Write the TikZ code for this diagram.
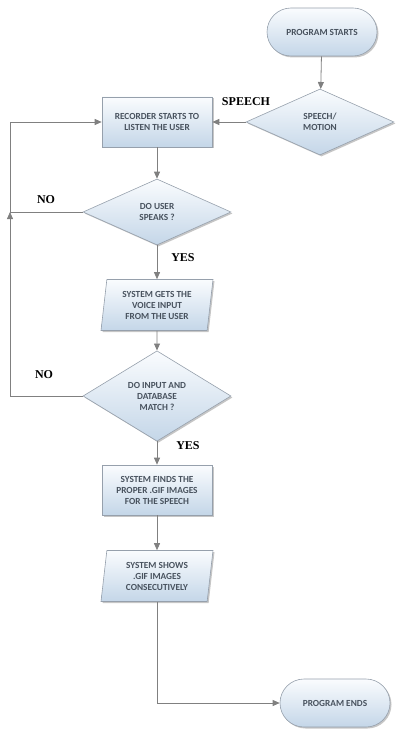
\documentclass[tikz,border=0pt]{standalone}
\usepackage{fontspec}
\setmainfont{Carlito}
\newfontfamily\lblfont{Liberation Serif}
\usetikzlibrary{positioning,arrows.meta,shapes.geometric,shapes.misc,shadows}
\definecolor{boxtop}{RGB}{250,252,254}
\definecolor{boxbot}{RGB}{196,214,232}
\definecolor{boxline}{RGB}{150,160,172}
\definecolor{boxtext}{RGB}{72,82,94}
\definecolor{arrgray}{RGB}{128,128,128}
\tikzset{
  every picture/.style={line width=0.6pt},
  base/.style={draw=boxline,top color=boxtop,bottom color=boxbot,text=boxtext,align=center,
    font=\fontsize{9.3}{11}\selectfont\bfseries,inner sep=1pt,
    drop shadow={shadow xshift=1.5pt,shadow yshift=-1.5pt,fill=gray,opacity=0.45}},
  blk/.style={base,rectangle,minimum height=50pt,minimum width=110pt},
  term/.style={base,rounded rectangle,minimum height=48pt,minimum width=112pt},
  dec/.style={base,diamond,minimum height=66pt,minimum width=148pt},
  io/.style={base,trapezium,trapezium left angle=79,trapezium right angle=101,
    trapezium stretches body,minimum height=51pt,minimum width=112pt},
  lbl/.style={font=\lblfont\fontsize{12}{14}\selectfont\bfseries,inner sep=0pt},
  flow/.style={-{Triangle[length=7pt,width=6pt]},draw=arrgray,line width=0.8pt},
}

\begin{document}
\begin{tikzpicture}[x=1pt,y=-1pt]
\useasboundingbox (0,0) rectangle (408,738);
% --- start / mode choice ---
\node[term] (start) at (322,32) {PROGRAM STARTS};
\node[dec] (mode) at (320,122) {SPEECH/\\MOTION};
\node[blk] (rec) at (157,122) {RECORDER STARTS TO\\LISTEN THE USER};
% --- speech loop ---
\node[dec] (speaks) at (157,212) {DO USER\\SPEAKS ?};
\node[io] (voice) at (157,305) {SYSTEM GETS THE\\VOICE INPUT\\FROM THE USER};
\node[dec] (match) at (157,396) {DO INPUT AND\\DATABASE\\MATCH ?};
% --- output ---
\node[blk] (find) at (157,490) {SYSTEM FINDS THE\\PROPER .GIF IMAGES\\FOR THE SPEECH};
\node[io] (shows) at (157,576) {SYSTEM SHOWS\\.GIF IMAGES\\CONSECUTIVELY};
\node[term] (ends) at (335,703) {PROGRAM ENDS};
\coordinate (j1) at (10,212);
% --- connectors ---
\draw[flow] (start) -- (mode);
\draw[flow] (mode) -- (rec);
\draw[flow] (rec) -- (speaks);
\draw[flow] (speaks) -- (voice);
\draw[flow] (voice) -- (match);
\draw[flow] (match) -- (find);
\draw[flow] (find) -- (shows);
\draw[flow] (shows.south) |- (ends.west);
\draw[flow] (match.west) -| (j1);
\draw[flow] (speaks.west) -- (j1) |- (rec.west);
% labels
\node[lbl] (lsp) at (246,102) {SPEECH};
\node[lbl] (lno1) at (46,200) {NO};
\node[lbl] (lyes1) at (183,258) {YES};
\node[lbl] (lno2) at (44,375) {NO};
\node[lbl] (lyes2) at (188,446) {YES};
\end{tikzpicture}
\end{document}
